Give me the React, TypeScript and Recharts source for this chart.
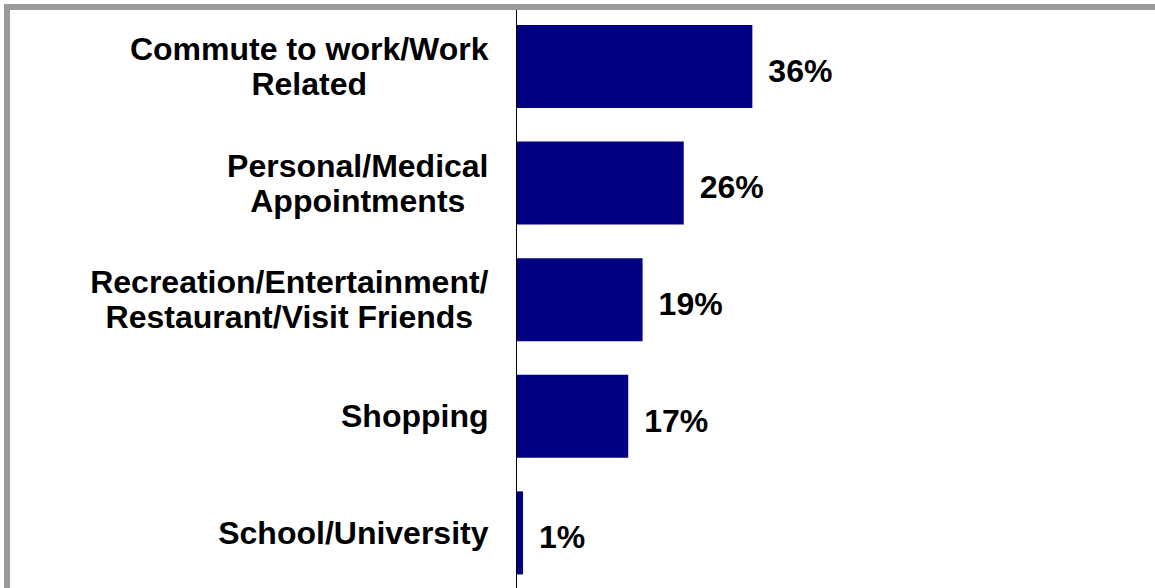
import React from 'react';
import { BarChart, Bar, XAxis, YAxis, LabelList } from 'recharts';

const categories: string[] = [
  'Commute to work/Work\nRelated',
  'Personal/Medical\nAppointments',
  'Recreation/Entertainment/\nRestaurant/Visit Friends',
  'Shopping',
  'School/University',
];
const values: number[] = [36.1, 25.6, 19.3, 17.1, 1.0];

const data = categories.map((c, i) => ({ name: c, value: values[i] }));

const FONT_SIZE = 32;
const FONT_FAMILY = '"Liberation Sans", Arial, Helvetica, sans-serif';
const LINE_H = 35;

let ctx: CanvasRenderingContext2D | null = null;
function measure(t: string): number {
  if (!ctx) {
    const c = document.createElement('canvas');
    ctx = c.getContext('2d');
  }
  if (!ctx) return t.length * FONT_SIZE * 0.6;
  ctx.font = `bold ${FONT_SIZE}px ${FONT_FAMILY}`;
  return ctx.measureText(t).width;
}

const CategoryTick = (props: any) => {
  const { x, y, payload } = props;
  const lines: string[] = String(payload.value).split('\n');
  const w = Math.max(...lines.map(measure));
  const cx = x - w / 2;
  const n = lines.length;
  return (
    <g>
      {lines.map((l, i) => (
        <text
          key={i}
          x={cx}
          y={y + (i - (n - 1) / 2) * LINE_H}
          dy="0.35em"
          textAnchor="middle"
          fill="#000"
          style={{ fontFamily: FONT_FAMILY, fontWeight: 'bold', fontSize: FONT_SIZE }}
        >
          {l}
        </text>
      ))}
    </g>
  );
};

const ValueLabel = (props: any) => {
  const { x, y, width, height, value } = props;
  return (
    <text
      x={x + width + 16}
      y={y + height / 2 + 4}
      dy="0.35em"
      textAnchor="start"
      fill="#000"
      style={{ fontFamily: FONT_FAMILY, fontWeight: 'bold', fontSize: FONT_SIZE }}
    >
      {`${Math.round(Number(value))}%`}
    </text>
  );
};

export default function App() {
  return (
    <div style={{ position: 'absolute', left: 0, top: 0, width: 1155, height: 588, overflow: 'hidden', background: '#fff' }}>
      <BarChart
        layout="vertical"
        width={1155}
        height={600}
        data={data}
        margin={{ top: 8, right: 50.5, bottom: 9, left: 0.5 }}
      >
        <XAxis type="number" domain={[0, 90]} hide />
        <YAxis
          type="category"
          dataKey="name"
          width={516}
          stroke="#000"
          axisLine={{ stroke: '#000', strokeWidth: 1 }}
          tickLine={false}
          tickSize={0}
          tickMargin={28}
          interval={0}
          tick={<CategoryTick />}
        />
        <Bar dataKey="value" fill="#000080" barSize={83} isAnimationActive={false}>
          <LabelList dataKey="value" content={<ValueLabel />} />
        </Bar>
      </BarChart>
      <div
        style={{
          position: 'absolute',
          left: 4,
          top: 4,
          width: 1300,
          height: 800,
          borderTop: '6px solid #9a9a9a',
          borderLeft: '6px solid #9a9a9a',
          pointerEvents: 'none',
        }}
      />
    </div>
  );
}
